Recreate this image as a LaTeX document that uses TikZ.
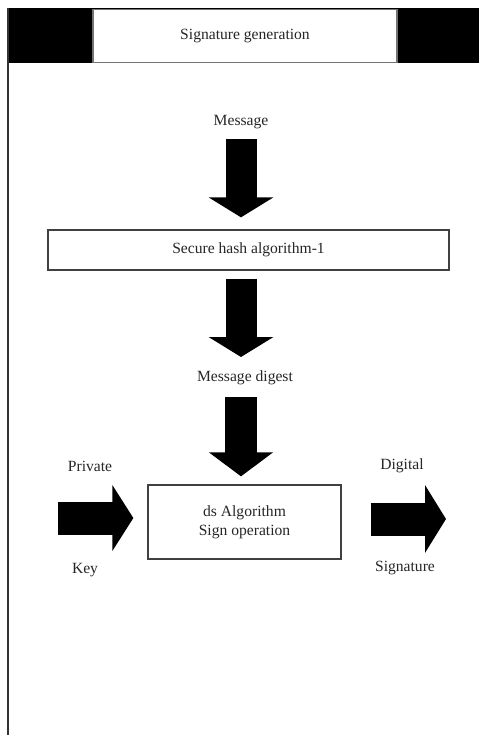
\documentclass[tikz,border=0pt]{standalone}
\usepackage{fontspec}
\setmainfont{Liberation Serif}
\usetikzlibrary{arrows.meta}
\begin{document}
\begin{tikzpicture}[x=1pt,y=-1pt,
  lbl/.style={font=\fontsize{15.6}{19}\selectfont, text=black!85, inner sep=0pt},
  blk/.style={draw=black!75, line width=1.3pt, fill=white, lbl},
  bigarrow/.style={line width=31pt, -{Triangle[length=20pt,width=64pt]}}]
\useasboundingbox (0,0) rectangle (479,735);
\fill (8,8) rectangle (479,63);
\draw[line width=1.5pt, black!80] (8,8) -- (8,735);
\node[blk, draw=black!55, minimum width=304pt, minimum height=53pt] (title) at (245,36){Signature generation};
\node[lbl] (msg) at (241,122){Message};
\node[blk, minimum width=401pt, minimum height=40pt] (hash) at (248.5,250){Secure hash algorithm-1};
\node[lbl] (digest) at (245,378){Message digest};
\node[blk, minimum width=193pt, minimum height=74pt, align=center] (ds) at (244.5,522){ds Algorithm\\Sign operation};
\node[lbl] (priv) at (90,466){Private};
\node[lbl] (key) at (85,570){Key};
\node[lbl] (dig) at (402,466){Digital};
\node[lbl] (sig) at (405,568){Signature};
\coordinate (pk) at (58,518);
\coordinate (out) at (446,519);
\draw[bigarrow, shorten <=10pt, shorten >=12pt] (msg) -- (msg |- hash.north);
\draw[bigarrow, shorten <=8pt, shorten >=21pt] (hash.south -| msg) -- (msg |- digest);
\draw[bigarrow, line width=32pt, -{Triangle[length=24pt,width=63pt]}, shorten <=19pt, shorten >=8pt] (msg |- digest) -- (msg |- ds.north);
\draw[bigarrow, line width=33pt, -{Triangle[length=21pt,width=65pt]}, shorten >=14pt] (pk) -- (pk -| ds.west);
\draw[bigarrow, line width=33pt, -{Triangle[length=21pt,width=67pt]}, shorten <=29pt] (ds.east |- out) -- (out);

\end{tikzpicture}
\end{document}
